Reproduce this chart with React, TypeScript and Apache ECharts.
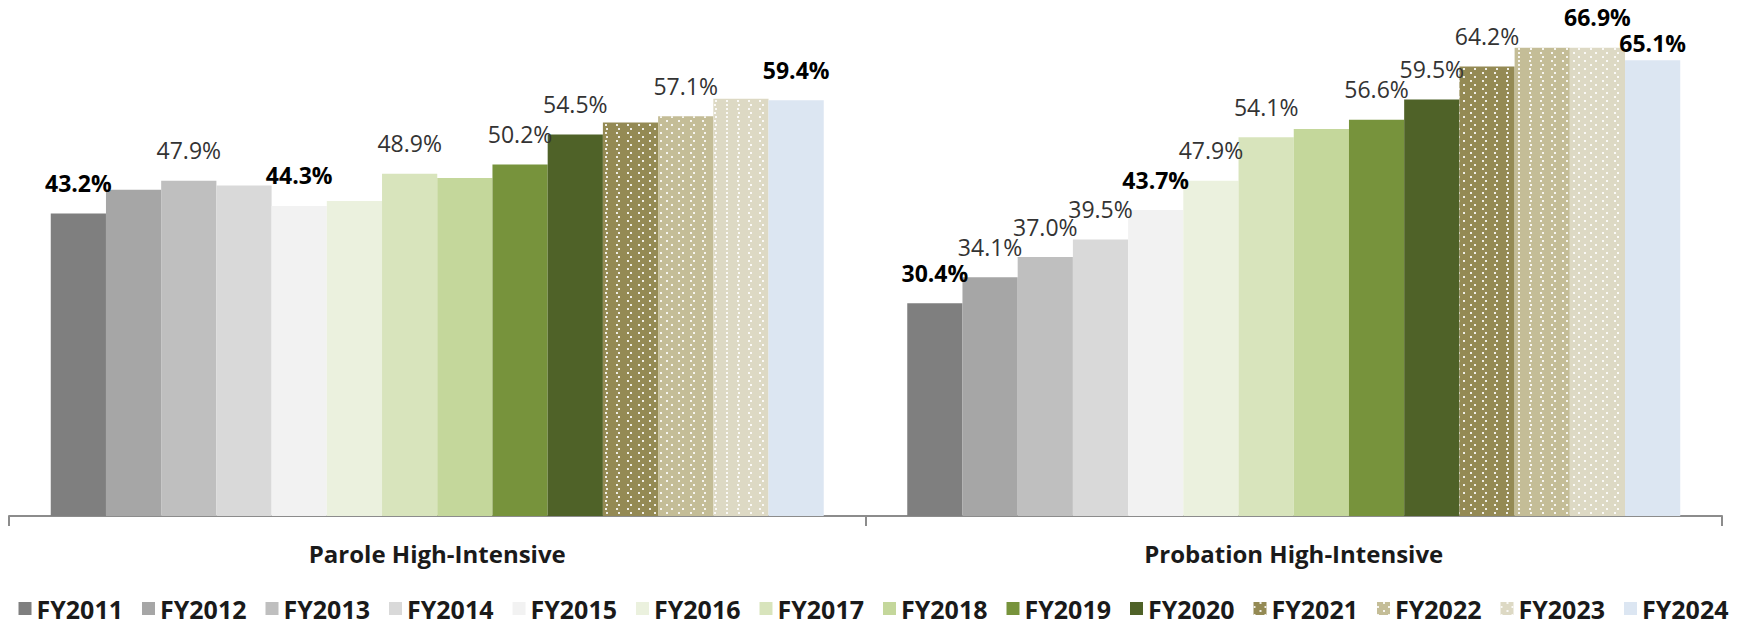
import React, { useEffect, useRef } from "react";
import * as echarts from "echarts";

const categories = ["Parole High-Intensive", "Probation High-Intensive"];
const years = [
  "FY2011", "FY2012", "FY2013", "FY2014", "FY2015", "FY2016", "FY2017",
  "FY2018", "FY2019", "FY2020", "FY2021", "FY2022", "FY2023", "FY2024",
];
const colors = [
  "#7f7f7f", "#a6a6a6", "#bfbfbf", "#d9d9d9", "#f2f2f2", "#ebf1de", "#d8e4bc",
  "#c4d79b", "#77933c", "#4f6228", "#948a54", "#c4bd97", "#ddd9c4", "#dce6f2",
];
const patterned = [0, 0, 0, 0, 0, 0, 0, 0, 0, 0, 1, 1, 1, 0];

const paroleValues = [43.2, 46.6, 47.9, 47.2, 44.3, 45.0, 48.9, 48.3, 50.2, 54.5, 56.2, 57.1, 59.6, 59.4];
const probationValues = [30.4, 34.1, 37.0, 39.5, 43.7, 47.9, 54.1, 55.3, 56.6, 59.5, 64.2, 66.9, 66.9, 65.1];

const paroleLabelShown = [1, 0, 1, 0, 1, 0, 1, 0, 1, 1, 0, 1, 0, 1];
const paroleLabelBold = [1, 0, 0, 0, 1, 0, 0, 0, 0, 0, 0, 0, 0, 1];
const probationLabelShown = [1, 1, 1, 1, 1, 1, 1, 0, 1, 1, 1, 0, 1, 1];
const probationLabelBold = [1, 0, 0, 0, 1, 0, 0, 0, 0, 0, 0, 0, 1, 1];
// labels nudged down in the reference (to avoid overlap), in px
const probationLabelDrop = [0, 0, 0, 0, 0, 0, 0, 0, 0, 0, 0, 0, 0, 13];

const FONT = "'Open Sans', 'Liberation Sans', sans-serif";

export default function App() {
  const ref = useRef<HTMLDivElement>(null);

  useEffect(() => {
    document.body.style.margin = "0";
    if (!ref.current) return;
    const chart = echarts.init(ref.current, null, { renderer: "svg" });

    const series = years.map((year, i) => {
      const vals = [paroleValues[i], probationValues[i]];
      const shown = [paroleLabelShown[i], probationLabelShown[i]];
      const bold = [paroleLabelBold[i], probationLabelBold[i]];
      const drop = [0, probationLabelDrop[i]];
      const itemStyle: any = { color: colors[i] };
      if (patterned[i]) {
        itemStyle.decal = {
          symbol: "rect",
          symbolSize: 1,
          color: "rgba(255,255,255,0.85)",
          dashArrayX: [[2, 9], [0, 5.5, 2, 3.5]],
          dashArrayY: [2, 2],
        };
      }
      return {
        name: year,
        type: "bar",
        barGap: "0%",
        barCategoryGap: "9.75%",
        itemStyle,
        data: vals.map((v, c) => ({
          value: v,
          label: {
            show: !!shown[c],
            position: "top",
            distance: 19,
            offset: [0, drop[c]],
            fontFamily: FONT,
            fontSize: 23,
            fontWeight: bold[c] ? "bold" : "normal",
            color: bold[c] ? "#000000" : "#333333",
            formatter: (p: any) => Number(p.value).toFixed(1) + "%",
          },
        })),
      };
    });

    chart.setOption({
      animation: false,
      textStyle: { fontFamily: FONT },
      grid: { left: 9, right: 25, top: 26, bottom: 110, containLabel: false },
      legend: {
        data: years,
        left: "center",
        top: 596,
        padding: 0,
        itemWidth: 13,
        itemHeight: 13,
        itemGap: 19,
        icon: "rect",
        textStyle: {
          fontFamily: FONT,
          fontSize: 25,
          lineHeight: 25,
          fontWeight: "bold",
          color: "#1a1a1a",
        },
      },
      xAxis: {
        type: "category",
        data: categories,
        axisLine: { lineStyle: { color: "#8c8c8c", width: 2 } },
        axisTick: { show: true, length: 10, lineStyle: { color: "#8c8c8c", width: 2 } },
        axisLabel: {
          margin: 25,
          fontFamily: FONT,
          fontSize: 24,
          fontWeight: "bold",
          color: "#1a1a1a",
        },
      },
      yAxis: {
        type: "value",
        min: 0,
        max: 70,
        show: false,
        splitLine: { show: false },
      },
      series,
    });

    return () => chart.dispose();
  }, []);

  return <div ref={ref} style={{ width: 1747, height: 626 }} />;
}
